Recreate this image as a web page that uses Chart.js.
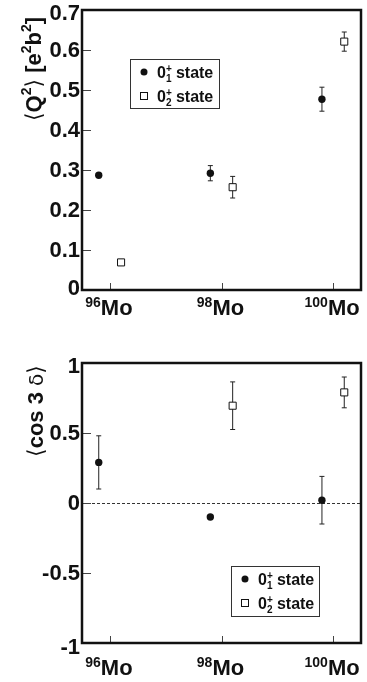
<!DOCTYPE html>
<html>
<head>
<meta charset="utf-8">
<script src="https://cdn.jsdelivr.net/npm/chart.js@4.4.1/dist/chart.umd.min.js"></script>
<style>
  html, body { margin: 0; padding: 0; background: #fff; }
  #wrap { position: relative; width: 367px; height: 682px; }
  #wrap canvas { position: absolute; left: 0; }
</style>
</head>
<body>
<div id="wrap">
  <canvas id="q2Chart" width="367" height="340" style="top:0"></canvas>
  <canvas id="cosChart" width="367" height="342" style="top:340px"></canvas>
</div>
<script>
// Mo isotopes along x; the two states sit either side of the mass number
var massNumbers = [96, 98, 100];
var massLabels = ['96', '98', '100'];
var stateShift = 0.2;

// <Q^2> [e^2 b^2]
var q2Ground = [0.287, 0.292, 0.477];
var q2GroundErr = [0, 0.019, 0.030];
var q2Excited = [0.069, 0.257, 0.621];
var q2ExcitedErr = [0, 0.027, 0.024];
var q2Ticks = [0, 0.1, 0.2, 0.3, 0.4, 0.5, 0.6, 0.7];

// <cos 3 delta>
var cosGround = [0.29, -0.10, 0.02];
var cosGroundErr = [0.19, 0, 0.17];
var cosExcited = [null, 0.695, 0.79];
var cosExcitedErr = [null, 0.17, 0.11];
var cosTicks = [-1, -0.5, 0, 0.5, 1];

var SANS = '"Liberation Sans", Arial, Helvetica, sans-serif';
var THIN = '"DejaVu Sans", sans-serif';
function bold(px) { return 'bold ' + px + 'px ' + SANS; }
function thin(px) { return px + 'px ' + THIN; }

function points(values, errs, shift) {
    var out = [];
    massNumbers.forEach(function (a, i) {
        if (values[i] === null) return;
        out.push({ x: a + shift, y: values[i], err: errs[i] });
    });
    return out;
}

// draw a row of text pieces; dy moves a piece off the baseline, adv overrides its advance
function drawPieces(ctx, pieces, x, y, align) {
    var total = 0;
    pieces.forEach(function (p) {
        ctx.font = p.font;
        p.w = (p.adv !== undefined) ? p.adv : ctx.measureText(p.t).width;
        total += p.w;
    });
    var cx = align === 'center' ? x - total / 2 : x;
    pieces.forEach(function (p) {
        ctx.font = p.font;
        ctx.fillText(p.t, cx, y + (p.dy || 0));
        cx += p.w;
    });
}

function stateLabel(n) {
    return [
        { t: '0', font: bold(16) },
        { t: '+', font: bold(10), dy: -6, adv: 0 },
        { t: n, font: bold(10), dy: 4 },
        { t: ' state', font: bold(16) }
    ];
}

function drawMarker(ctx, kind, x, y) {
    ctx.save();
    ctx.lineWidth = 1;
    ctx.strokeStyle = '#111';
    if (kind === 'circle') {
        ctx.fillStyle = '#111';
        ctx.beginPath();
        ctx.arc(x, y, 3.5, 0, Math.PI * 2);
        ctx.fill();
    } else {
        ctx.fillStyle = '#fff';
        ctx.fillRect(x - 3.5, y - 3.5, 7, 7);
        ctx.strokeRect(x - 3.5, y - 3.5, 7, 7);
    }
    ctx.restore();
}

var errorBars = {
    id: 'errorBars',
    beforeDatasetsDraw: function (chart) {
        var ctx = chart.ctx, ys = chart.scales.y;
        ctx.save();
        ctx.strokeStyle = '#222';
        ctx.lineWidth = 1;
        chart.data.datasets.forEach(function (ds, di) {
            chart.getDatasetMeta(di).data.forEach(function (pt, i) {
                var d = ds.data[i];
                if (!d.err) return;
                var x = pt.x;
                var top = ys.getPixelForValue(d.y + d.err);
                var bot = ys.getPixelForValue(d.y - d.err);
                ctx.beginPath();
                ctx.moveTo(x, top); ctx.lineTo(x, bot);
                ctx.moveTo(x - 2.5, top); ctx.lineTo(x + 2.5, top);
                ctx.moveTo(x - 2.5, bot); ctx.lineTo(x + 2.5, bot);
                ctx.stroke();
            });
        });
        ctx.restore();
    }
};

// frame, inward ticks, tick labels, isotope labels, axis title and legend
var panel = {
    id: 'panel',
    beforeDatasetsDraw: function (chart, args, opts) {
        if (!opts.zeroLine) return;
        var ctx = chart.ctx, a = chart.chartArea;
        var y = Math.round(chart.scales.y.getPixelForValue(0)) + 0.5;
        ctx.save();
        ctx.strokeStyle = '#333';
        ctx.lineWidth = 1;
        ctx.setLineDash([3, 2]);
        ctx.beginPath();
        ctx.moveTo(a.left, y);
        ctx.lineTo(a.right, y);
        ctx.stroke();
        ctx.restore();
    },
    afterDraw: function (chart, args, opts) {
        var ctx = chart.ctx, a = chart.chartArea;
        var xs = chart.scales.x, ys = chart.scales.y;
        ctx.save();

        // tick marks inside the frame
        ctx.strokeStyle = '#444';
        ctx.lineWidth = 1;
        ctx.beginPath();
        opts.yTicks.forEach(function (v) {
            var y = Math.round(ys.getPixelForValue(v)) + 0.5;
            ctx.moveTo(a.left, y);
            ctx.lineTo(a.left + 9, y);
        });
        massNumbers.forEach(function (m) {
            var x = Math.round(xs.getPixelForValue(m)) + 0.5;
            ctx.moveTo(x, a.bottom);
            ctx.lineTo(x, a.bottom - 7);
        });
        ctx.stroke();

        // frame
        ctx.strokeStyle = '#111';
        ctx.lineWidth = 2.5;
        ctx.strokeRect(a.left, a.top, a.right - a.left, a.bottom - a.top);

        // y tick labels, the end ones nudged to stay clear of the corners
        ctx.fillStyle = '#111';
        ctx.font = bold(22);
        ctx.textAlign = 'right';
        ctx.textBaseline = 'middle';
        var last = opts.yTicks.length - 1;
        opts.yTicks.forEach(function (v, i) {
            var nudge = i === last ? 4 : (i === 0 ? opts.lowNudge : 1);
            ctx.fillText(String(v), a.left - 2, ys.getPixelForValue(v) + nudge);
        });

        // isotope labels
        ctx.textAlign = 'left';
        ctx.textBaseline = 'alphabetic';
        massNumbers.forEach(function (m, i) {
            drawPieces(ctx, [
                { t: massLabels[i], font: bold(14), dy: -8 },
                { t: 'Mo', font: bold(22) }
            ], xs.getPixelForValue(m) - 1, a.bottom + opts.labelDrop, 'center');
        });

        // rotated y title
        ctx.save();
        ctx.translate(opts.titleX, opts.titleY);
        ctx.rotate(-Math.PI / 2);
        drawPieces(ctx, opts.title, 0, 0, 'center');
        ctx.restore();

        // legend
        var L = opts.legend;
        ctx.fillStyle = '#fff';
        ctx.fillRect(L.x, L.y, L.w, L.h);
        ctx.strokeStyle = '#333';
        ctx.lineWidth = 1;
        ctx.strokeRect(L.x + 0.5, L.y + 0.5, L.w, L.h);
        ctx.fillStyle = '#111';
        drawMarker(ctx, 'circle', L.x + 14, L.y + 13);
        drawPieces(ctx, stateLabel('1'), L.x + 27, L.y + 19, 'left');
        drawMarker(ctx, 'square', L.x + 14, L.y + 37);
        drawPieces(ctx, stateLabel('2'), L.x + 27, L.y + 43, 'left');

        ctx.restore();
    }
};

function makePanel(id, ground, groundErr, excited, excitedErr, yMin, yMax, opts) {
    return new Chart(document.getElementById(id).getContext('2d'), {
        type: 'scatter',
        data: {
            datasets: [{
                label: '0+1 state',
                data: points(ground, groundErr, -stateShift),
                pointStyle: 'circle',
                pointRadius: 3.7,
                backgroundColor: '#111',
                borderColor: '#111',
                borderWidth: 0
            }, {
                label: '0+2 state',
                data: points(excited, excitedErr, stateShift),
                pointStyle: 'rect',
                pointRadius: 5,
                backgroundColor: '#fff',
                borderColor: '#111',
                borderWidth: 1
            }]
        },
        options: {
            responsive: false,
            animation: false,
            events: [],
            layout: { padding: { top: opts.top, right: 4, left: 0, bottom: 0 } },
            plugins: {
                legend: { display: false },
                tooltip: { enabled: false },
                panel: opts
            },
            scales: {
                x: {
                    type: 'linear', min: 95.5, max: 100.5,
                    ticks: { display: false },
                    grid: { display: false },
                    border: { display: false },
                    afterFit: function (s) { s.height = opts.xHeight; }
                },
                y: {
                    min: yMin, max: yMax,
                    ticks: { display: false },
                    grid: { display: false },
                    border: { display: false },
                    afterFit: function (s) { s.width = 82; }
                }
            }
        },
        plugins: [errorBars, panel]
    });
}

makePanel('q2Chart', q2Ground, q2GroundErr, q2Excited, q2ExcitedErr, 0, 0.7, {
    top: 10,
    xHeight: 50,
    yTicks: q2Ticks,
    lowNudge: -1,
    labelDrop: 25,
    zeroLine: false,
    titleX: 41,
    titleY: 69,
    title: [
        { t: '\u27E8', font: thin(22) },
        { t: 'Q', font: bold(22) },
        { t: '2', font: bold(14), dy: -10 },
        { t: '\u27E9', font: thin(22) },
        { t: ' [e', font: bold(22) },
        { t: '2', font: bold(14), dy: -10 },
        { t: 'b', font: bold(22) },
        { t: '2', font: bold(14), dy: -10 },
        { t: ']', font: bold(22) }
    ],
    legend: { x: 130, y: 59, w: 89, h: 49 }
});

makePanel('cosChart', cosGround, cosGroundErr, cosExcited, cosExcitedErr, -1, 1, {
    top: 23,
    xHeight: 39,
    yTicks: cosTicks,
    lowNudge: 5,
    labelDrop: 32,
    zeroLine: true,
    titleX: 43,
    titleY: 71,
    title: [
        { t: '\u27E8', font: thin(22) },
        { t: 'cos 3 ', font: bold(22) },
        { t: '\u03B4', font: thin(20) },
        { t: '\u27E9', font: thin(22) }
    ],
    legend: { x: 231, y: 226, w: 88, h: 50 }
});
</script>
</body>
</html>
